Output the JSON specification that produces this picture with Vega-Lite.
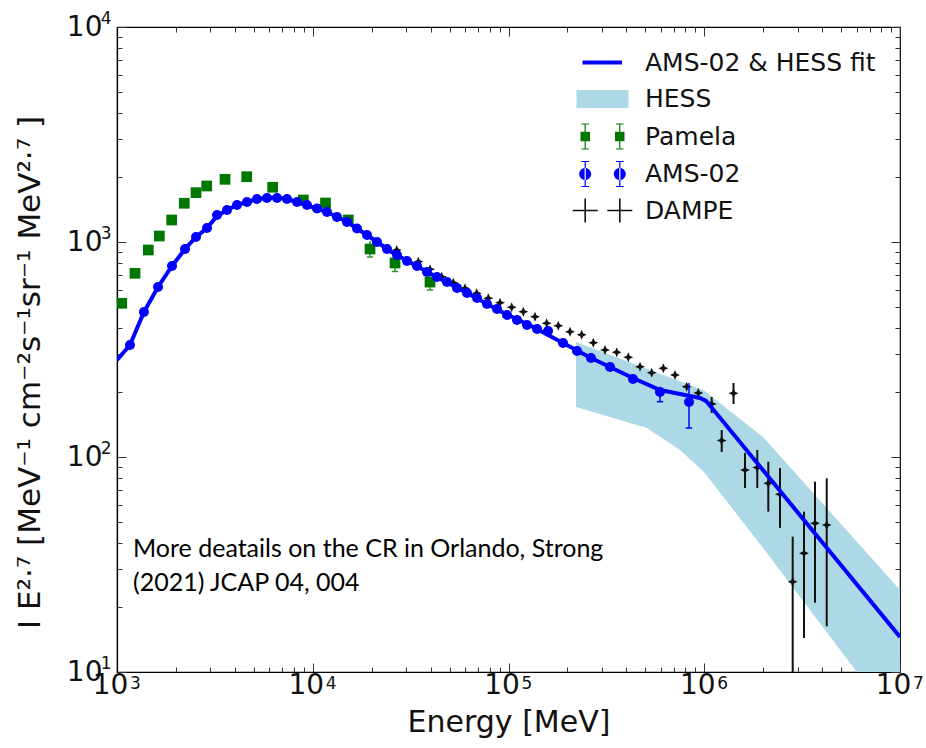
{
  "$schema": "https://vega.github.io/schema/vega-lite/v6.json",
  "width": 783,
  "height": 645,
  "autosize": {"type": "none"},
  "padding": {"left": 117, "top": 27, "right": 26, "bottom": 76},
  "background": "white",
  "config": {
    "view": {"stroke": "black", "strokeWidth": 1.2},
    "font": "DejaVu Sans",
    "axis": {"grid": false, "domainColor": "black", "domainWidth": 1.2, "tickColor": "#333333", "tickWidth": 1, "labelColor": "#111111", "titleColor": "#111111", "labelFont": "DejaVu Sans", "titleFont": "DejaVu Sans", "titleFontWeight": "normal", "labelOverlap": false, "labelFlush": false}
  },
  "datasets": {
    "hess": [
      {"E": 221200, "hi": 342.7, "lo": 170.8},
      {"E": 508200, "hi": 257.4, "lo": 136.4},
      {"E": 751700, "hi": 224.9, "lo": 107.8},
      {"E": 997100, "hi": 203.9, "lo": 85.16},
      {"E": 1996000, "hi": 123.9, "lo": 37.73},
      {"E": 6008000, "hi": 40.42, "lo": 10.03},
      {"E": 10000000, "hi": 24.06, "lo": 5.46}
    ],
    "fit": [
      {"E": 1000, "v": 282.6}, {"E": 1165, "v": 331.9}, {"E": 1373, "v": 472.6}, {"E": 1620, "v": 617.6},
      {"E": 1910, "v": 773.3}, {"E": 2226, "v": 927.8}, {"E": 2533, "v": 1055}, {"E": 2883, "v": 1162},
      {"E": 3243, "v": 1321}, {"E": 3648, "v": 1409}, {"E": 4103, "v": 1486}, {"E": 4615, "v": 1535},
      {"E": 5190, "v": 1585}, {"E": 5839, "v": 1602}, {"E": 6567, "v": 1611}, {"E": 7386, "v": 1585},
      {"E": 8607, "v": 1518}, {"E": 11826, "v": 1379}, {"E": 14962, "v": 1239}, {"E": 18928, "v": 1078},
      {"E": 25700, "v": 889}, {"E": 41150, "v": 702}, {"E": 61380, "v": 579}, {"E": 90500, "v": 477.6},
      {"E": 133400, "v": 402.4}, {"E": 189900, "v": 339}, {"E": 263900, "v": 288.6}, {"E": 432500, "v": 233.1},
      {"E": 594000, "v": 204.9}, {"E": 845800, "v": 192.1}, {"E": 951200, "v": 188.1}, {"E": 1021000, "v": 182.2},
      {"E": 1095000, "v": 169.0}, {"E": 2525000, "v": 66.9}, {"E": 10000000, "v": 14.55}
    ],
    "ams": [
      {"E": 1165, "v": 331.9}, {"E": 1373, "v": 472.6}, {"E": 1620, "v": 617.6}, {"E": 1910, "v": 773.3},
      {"E": 2226, "v": 927.8}, {"E": 2533, "v": 1055}, {"E": 2883, "v": 1162}, {"E": 3243, "v": 1335},
      {"E": 3648, "v": 1409}, {"E": 4103, "v": 1486}, {"E": 4615, "v": 1535}, {"E": 5190, "v": 1585},
      {"E": 5839, "v": 1602}, {"E": 6567, "v": 1602}, {"E": 7386, "v": 1585}, {"E": 8308, "v": 1535},
      {"E": 9346, "v": 1486}, {"E": 10513, "v": 1431}, {"E": 11826, "v": 1379}, {"E": 13300, "v": 1307},
      {"E": 14962, "v": 1239}, {"E": 16830, "v": 1156}, {"E": 18928, "v": 1078}, {"E": 21290, "v": 1000},
      {"E": 23950, "v": 927.8}, {"E": 26940, "v": 870}, {"E": 30300, "v": 816}, {"E": 34090, "v": 773.3},
      {"E": 38340, "v": 725.6}, {"E": 43130, "v": 687.3}, {"E": 48520, "v": 651.1}, {"E": 54580, "v": 611.1},
      {"E": 61380, "v": 579.3}, {"E": 69050, "v": 548.9}, {"E": 77670, "v": 514.9}, {"E": 87360, "v": 488.1},
      {"E": 98250, "v": 457.6}, {"E": 110500, "v": 433.8}, {"E": 124300, "v": 411.2}, {"E": 139900, "v": 394},
      {"E": 159200, "v": 385.6}, {"E": 189900, "v": 339}, {"E": 223900, "v": 311.2}, {"E": 263900, "v": 288.6},
      {"E": 330100, "v": 262.2}, {"E": 432500, "v": 230.7}, {"E": 594000, "v": 200.6}, {"E": 835800, "v": 180.3}
    ],
    "ams_err": [
      {"E": 594000, "lo": 180.8, "hi": 212},
      {"E": 835800, "lo": 136.4, "hi": 220.9}
    ],
    "pamela": [
      {"E": 1057, "v": 518.7}, {"E": 1236, "v": 715.2}, {"E": 1445, "v": 918}, {"E": 1645, "v": 1066},
      {"E": 1903, "v": 1266}, {"E": 2207, "v": 1514}, {"E": 2533, "v": 1696}, {"E": 2873, "v": 1822},
      {"E": 3563, "v": 1957}, {"E": 4599, "v": 2012}, {"E": 6243, "v": 1797}, {"E": 8947, "v": 1568},
      {"E": 11620, "v": 1518}, {"E": 15190, "v": 1266}, {"E": 19610, "v": 927.8}, {"E": 26320, "v": 798.7},
      {"E": 39720, "v": 651.1}
    ],
    "pamela_err": [
      {"E": 19610, "lo": 851.6, "hi": 1010},
      {"E": 26320, "lo": 729.5, "hi": 870},
      {"E": 39720, "lo": 597.9, "hi": 709.9}
    ],
    "dampe": [
      {"E": 26850, "v": 918}, {"E": 34620, "v": 809.6}, {"E": 39720, "v": 746.4}, {"E": 45580, "v": 689.5},
      {"E": 52240, "v": 646.2}, {"E": 59950, "v": 609.1}, {"E": 68800, "v": 577.5}, {"E": 78860, "v": 547.2},
      {"E": 90500, "v": 522.1}, {"E": 103800, "v": 496.9}, {"E": 119000, "v": 474.0}, {"E": 136600, "v": 449.3},
      {"E": 156700, "v": 418.7}, {"E": 179700, "v": 407.6}, {"E": 206200, "v": 382.7}, {"E": 236600, "v": 370.6},
      {"E": 271200, "v": 340.1}, {"E": 311200, "v": 314.5}, {"E": 357100, "v": 306.9}, {"E": 409300, "v": 290.9},
      {"E": 469700, "v": 263.0}, {"E": 539000, "v": 246.6}, {"E": 617900, "v": 258.5}, {"E": 708900, "v": 240.6},
      {"E": 813500, "v": 212.3}, {"E": 932400, "v": 198.5}, {"E": 1091000, "v": 176.4}, {"E": 1411000, "v": 197.9},
      {"E": 1228000, "v": 119.4}, {"E": 1615000, "v": 87.0}, {"E": 1866000, "v": 89.4}, {"E": 2124000, "v": 75.5},
      {"E": 2438000, "v": 67.1}, {"E": 2830000, "v": 26.3}, {"E": 3232000, "v": 35.7}, {"E": 3680000, "v": 49.2},
      {"E": 4223000, "v": 48.3}
    ],
    "dampe_err": [
      {"E": 1091000, "lo": 160.2, "hi": 190.1}, {"E": 1411000, "lo": 176.4, "hi": 220.9},
      {"E": 1228000, "lo": 105.5, "hi": 133.5}, {"E": 1615000, "lo": 71.8, "hi": 104.4},
      {"E": 1866000, "lo": 71.8, "hi": 107.8}, {"E": 2124000, "lo": 55.7, "hi": 95.1},
      {"E": 2438000, "lo": 46.8, "hi": 88.9}, {"E": 2830000, "lo": 10, "hi": 42.6},
      {"E": 3232000, "lo": 14.4, "hi": 55.7}, {"E": 3680000, "lo": 21.0, "hi": 76.8},
      {"E": 4223000, "lo": 16.3, "hi": 79.6}
    ],
    "note": [
      {"E": 1207, "v": 34.27, "t": "More deatails on the CR in Orlando, Strong"},
      {"E": 1207, "v": 23.8, "t": "(2021) JCAP 04, 004"}
    ],
    "legend": [
      {"series": "AMS-02 & HESS fit", "E": 1, "v": 1},
      {"series": "HESS", "E": 1, "v": 1},
      {"series": "Pamela", "E": 1, "v": 1},
      {"series": "AMS-02", "E": 1, "v": 1},
      {"series": "DAMPE", "E": 1, "v": 1}
    ]
  },
  "layer": [
    {
      "data": {"name": "hess"},
      "mark": {"type": "area", "color": "#add8e6", "opacity": 1, "clip": true},
      "encoding": {
        "x": {
          "field": "E", "type": "quantitative",
          "scale": {"type": "log", "domain": [1000, 10000000], "nice": false},
          "axis": {
            "orient": "bottom",
            "title": "Energy [MeV]", "titleFontSize": 30, "titlePadding": 4,
            "values": [1000,2000,3000,4000,5000,6000,7000,8000,9000,10000,20000,30000,40000,50000,60000,70000,80000,90000,100000,200000,300000,400000,500000,600000,700000,800000,900000,1000000,2000000,3000000,4000000,5000000,6000000,7000000,8000000,9000000,10000000],
            "labelExpr": "abs(log(datum.value)/LN10 - round(log(datum.value)/LN10)) < 0.001 ? '10' : ''",
            "labelFontSize": 28, "labelPadding": 8, "labelOffset": -7,
            "tickSize": {"condition": {"test": "abs(log(datum.value)/LN10 - round(log(datum.value)/LN10)) < 0.001", "value": -9}, "value": -5}
          }
        },
        "y": {
          "field": "hi", "type": "quantitative",
          "scale": {"type": "log", "domain": [10, 10000], "nice": false},
          "axis": {
            "orient": "left",
            "title": "I E²·⁷ [MeV⁻¹ cm⁻²s⁻¹sr⁻¹ MeV²·⁷ ]", "titleFontSize": 31,
            "titleX": -71, "titleY": 345, "titleBaseline": "bottom", "titleAngle": -90,
            "values": [10,20,30,40,50,60,70,80,90,100,200,300,400,500,600,700,800,900,1000,2000,3000,4000,5000,6000,7000,8000,9000,10000],
            "labelExpr": "abs(log(datum.value)/LN10 - round(log(datum.value)/LN10)) < 0.001 ? '10' : ''",
            "labelFontSize": 28, "labelPadding": 24,
            "tickSize": {"condition": {"test": "abs(log(datum.value)/LN10 - round(log(datum.value)/LN10)) < 0.001", "value": -9}, "value": -5}
          }
        },
        "y2": {"field": "lo"}
      }
    },
    {
      "data": {"name": "pamela_err"},
      "mark": {"type": "rule", "color": "#2e9a2e", "strokeWidth": 1.5, "clip": true},
      "encoding": {
        "x": {"field": "E", "type": "quantitative", "axis": null},
        "y": {"field": "lo", "type": "quantitative", "axis": null},
        "y2": {"field": "hi"}
      }
    },
    {
      "data": {"name": "pamela_err"},
      "mark": {"type": "point", "shape": "stroke", "filled": false, "color": "#2e9a2e", "size": 40, "strokeWidth": 1.5, "opacity": 1, "clip": true},
      "encoding": {
        "x": {"field": "E", "type": "quantitative", "axis": null},
        "y": {"field": "lo", "type": "quantitative", "axis": null}
      }
    },
    {
      "data": {"name": "pamela"},
      "mark": {"type": "point", "shape": "square", "filled": true, "color": "#007800", "size": 115, "opacity": 1, "clip": true},
      "encoding": {
        "x": {"field": "E", "type": "quantitative", "axis": null},
        "y": {"field": "v", "type": "quantitative", "axis": null}
      }
    },
    {
      "data": {"name": "dampe_err"},
      "mark": {"type": "rule", "color": "#111111", "strokeWidth": 2, "clip": true},
      "encoding": {
        "x": {"field": "E", "type": "quantitative", "axis": null},
        "y": {"field": "lo", "type": "quantitative", "axis": null},
        "y2": {"field": "hi"}
      }
    },
    {
      "data": {"name": "dampe"},
      "mark": {"type": "point", "shape": "M-1,0L-0.3,-0.3L0,-1L0.3,-0.3L1,0L0.3,0.3L0,1L-0.3,0.3Z", "filled": true, "color": "#111111", "size": 100, "opacity": 1, "clip": true},
      "encoding": {
        "x": {"field": "E", "type": "quantitative", "axis": null},
        "y": {"field": "v", "type": "quantitative", "axis": null}
      }
    },
    {
      "data": {"name": "fit"},
      "mark": {"type": "line", "color": "#0000ff", "strokeWidth": 4, "clip": true},
      "encoding": {
        "x": {
          "field": "E", "type": "quantitative",
          "axis": {
            "orient": "bottom", "title": null, "ticks": false, "domain": false,
            "values": [1000, 10000, 100000, 1000000, 10000000],
            "labelExpr": "['0','1','2','3','4','5','6','7'][round(log(datum.value)/LN10)]",
            "labelFontSize": 17, "labelPadding": 3, "labelOffset": 18
          }
        },
        "y": {
          "field": "v", "type": "quantitative",
          "axis": {
            "orient": "left", "title": null, "ticks": false, "domain": false,
            "values": [10, 100, 1000, 10000],
            "labelExpr": "['0','1','2','3','4','5','6','7'][round(log(datum.value)/LN10)]",
            "labelFontSize": 17, "labelPadding": 6, "labelOffset": -9
          }
        }
      }
    },
    {
      "data": {"name": "ams_err"},
      "mark": {"type": "rule", "color": "#0000ff", "strokeWidth": 1.5, "clip": true},
      "encoding": {
        "x": {"field": "E", "type": "quantitative", "axis": null},
        "y": {"field": "lo", "type": "quantitative", "axis": null},
        "y2": {"field": "hi"}
      }
    },
    {
      "data": {"name": "ams_err"},
      "mark": {"type": "point", "shape": "stroke", "filled": false, "color": "#0000ff", "size": 40, "strokeWidth": 1.5, "opacity": 1, "clip": true},
      "encoding": {
        "x": {"field": "E", "type": "quantitative", "axis": null},
        "y": {"field": "lo", "type": "quantitative", "axis": null}
      }
    },
    {
      "data": {"name": "ams"},
      "mark": {"type": "point", "shape": "circle", "filled": true, "color": "#0000ff", "size": 100, "opacity": 1, "clip": true},
      "encoding": {
        "x": {"field": "E", "type": "quantitative", "axis": null},
        "y": {"field": "v", "type": "quantitative", "axis": null}
      }
    },
    {
      "data": {"name": "note"},
      "mark": {"type": "text", "align": "left", "baseline": "alphabetic", "font": "Lato", "fontSize": 25, "color": "#000000"},
      "encoding": {
        "x": {"field": "E", "type": "quantitative", "axis": null},
        "y": {"field": "v", "type": "quantitative", "axis": null},
        "text": {"field": "t"}
      }
    },
    {
      "data": {"name": "legend"},
      "mark": {"type": "point", "filled": true, "opacity": 1, "size": 400, "clip": true},
      "encoding": {
        "x": {
          "field": "E", "type": "quantitative",
          "axis": {
            "orient": "top", "labels": false, "title": null, "domain": false,
            "values": [1000,2000,3000,4000,5000,6000,7000,8000,9000,10000,20000,30000,40000,50000,60000,70000,80000,90000,100000,200000,300000,400000,500000,600000,700000,800000,900000,1000000,2000000,3000000,4000000,5000000,6000000,7000000,8000000,9000000,10000000],
            "tickSize": {"condition": {"test": "abs(log(datum.value)/LN10 - round(log(datum.value)/LN10)) < 0.001", "value": -9}, "value": -5}
          }
        },
        "y": {
          "field": "v", "type": "quantitative",
          "axis": {
            "orient": "right", "labels": false, "title": null, "domain": false,
            "values": [10,20,30,40,50,60,70,80,90,100,200,300,400,500,600,700,800,900,1000,2000,3000,4000,5000,6000,7000,8000,9000,10000],
            "tickSize": {"condition": {"test": "abs(log(datum.value)/LN10 - round(log(datum.value)/LN10)) < 0.001", "value": -9}, "value": -5}
          }
        },
        "color": {
          "field": "series", "type": "nominal",
          "scale": {"domain": ["AMS-02 & HESS fit", "HESS", "Pamela", "AMS-02", "DAMPE"], "range": ["#0000ff", "#add8e6", "#007800", "#0000ff", "#111111"]},
          "legend": {"title": null, "orient": "none", "legendX": 473, "legendY": 23, "labelFontSize": 25, "labelFont": "DejaVu Sans", "labelColor": "#111111", "symbolSize": 400, "labelOffset": 30, "rowPadding": 10.5, "padding": 0, "symbolStrokeWidth": 0, "labelLimit": 400, "symbolOpacity": 1}
        },
        "shape": {
          "field": "series", "type": "nominal",
          "scale": {"domain": ["AMS-02 & HESS fit", "HESS", "Pamela", "AMS-02", "DAMPE"], "range": [
            "M-2,-0.2H1.95V0.2H-2Z",
            "M-2.6,-0.9H2.6V0.9H-2.6Z",
            "M-2.2,-0.48H-1.25V0.48H-2.2Z M1.25,-0.48H2.2V0.48H1.25Z M-1.79,-1.25H-1.67V1.25H-1.79Z M1.67,-1.25H1.79V1.25H1.67Z M-2.1,-1.3H-1.35V-1.2H-2.1Z M-2.1,1.2H-1.35V1.3H-2.1Z M1.35,-1.3H2.1V-1.2H1.35Z M1.35,1.2H2.1V1.3H1.35Z",
            "M-2.33,0A0.6,0.6 0 1,0 -1.13,0A0.6,0.6 0 1,0 -2.33,0Z M1.13,0A0.6,0.6 0 1,0 2.33,0A0.6,0.6 0 1,0 1.13,0Z M-1.79,-1.25H-1.67V1.25H-1.79Z M1.67,-1.25H1.79V1.25H1.67Z M-2.1,-1.3H-1.35V-1.2H-2.1Z M-2.1,1.2H-1.35V1.3H-2.1Z M1.35,-1.3H2.1V-1.2H1.35Z M1.35,1.2H2.1V1.3H1.35Z",
            "M-2.98,-0.08H-0.48V0.08H-2.98Z M-1.81,-1.2H-1.65V1.2H-1.81Z M0.48,-0.08H2.98V0.08H0.48Z M1.65,-1.2H1.81V1.2H1.65Z"
          ]},
          "legend": {"title": null, "orient": "none", "legendX": 473, "legendY": 23, "labelFontSize": 25, "labelFont": "DejaVu Sans", "labelColor": "#111111", "symbolSize": 400, "labelOffset": 30, "rowPadding": 10.5, "padding": 0, "symbolStrokeWidth": 0, "labelLimit": 400, "symbolOpacity": 1}
        }
      }
    }
  ],
  "resolve": {"axis": {"x": "independent", "y": "independent"}}
}
